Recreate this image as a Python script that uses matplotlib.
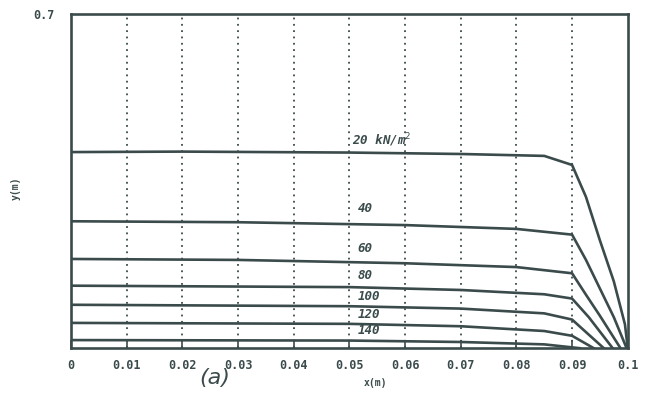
import matplotlib
matplotlib.use("Agg")
import matplotlib.pyplot as plt

# ---- data ----
loads = ["20 kN/m$^2$", "40", "60", "80", "100", "120", "140"]
x20 = [0, 0.02, 0.05, 0.07, 0.085, 0.09, 0.0925, 0.095, 0.0975, 0.0995, 0.1]
y20 = [0.411, 0.412, 0.410, 0.407, 0.403, 0.384, 0.317, 0.226, 0.140, 0.05, 0.0]
x40 = [0, 0.03, 0.06, 0.08, 0.09, 0.0925, 0.095, 0.0975, 0.0998]
y40 = [0.266, 0.264, 0.258, 0.250, 0.238, 0.185, 0.125, 0.065, 0.0]
x60 = [0, 0.03, 0.06, 0.08, 0.09, 0.0925, 0.095, 0.0987]
y60 = [0.187, 0.185, 0.178, 0.170, 0.157, 0.112, 0.068, 0.0]
x80 = [0, 0.05, 0.07, 0.085, 0.09, 0.093, 0.0973]
y80 = [0.131, 0.128, 0.122, 0.113, 0.104, 0.065, 0.0]
x100 = [0, 0.05, 0.07, 0.085, 0.09, 0.0957]
y100 = [0.091, 0.088, 0.083, 0.073, 0.060, 0.0]
x120 = [0, 0.05, 0.07, 0.085, 0.09, 0.0939]
y120 = [0.053, 0.051, 0.046, 0.036, 0.026, 0.0]
x140 = [0, 0.05, 0.07, 0.085, 0.0914]
y140 = [0.017, 0.016, 0.013, 0.008, 0.0]
label_x = [0.0505, 0.0515, 0.0515, 0.0515, 0.0515, 0.0515, 0.0515]
label_y = [0.436, 0.293, 0.208, 0.153, 0.109, 0.071, 0.038]
xticks = [0, 0.01, 0.02, 0.03, 0.04, 0.05, 0.06, 0.07, 0.08, 0.09, 0.1]
xtick_labels = ["0", "0.01", "0.02", "0.03", "0.04", "0.05", "0.06", "0.07", "0.08", "0.09", "0.1"]

xs = [x20, x40, x60, x80, x100, x120, x140]
ys = [y20, y40, y60, y80, y100, y120, y140]

col = "#3b4b4b"
fig = plt.figure(figsize=(6.58, 4.17), dpi=100)
ax = fig.add_axes([0.108, 0.165, 0.846, 0.801])
for x, y in zip(xs, ys):
    ax.plot(x, y, color=col, lw=1.9, solid_joinstyle="round")
for lab, lx, ly in zip(loads, label_x, label_y):
    ax.text(lx, ly, lab, color=col, fontsize=9, fontweight="bold", fontstyle="italic",
            family="DejaVu Sans Mono", va="center", ha="left")

ax.set_xlim(0, 0.1)
ax.set_ylim(0, 0.7)
for gx in xticks[1:-1]:
    ax.axvline(gx, color=col, lw=1.3, ls=(0, (1, 2.5)))
ax.set_xticks(xticks)
ax.set_xticklabels(xtick_labels, fontsize=8.5, fontweight="bold", family="DejaVu Sans Mono", color=col)
ax.set_yticks([0.7])
ax.set_yticklabels(["0.7"], fontsize=8.5, fontweight="bold", family="DejaVu Sans Mono", color=col)
ax.tick_params(axis="x", direction="in", length=6, width=1.2, color=col, pad=8)
ax.tick_params(axis="y", length=0, pad=12)
for s in ax.spines.values():
    s.set_color(col)
    s.set_linewidth(1.9)
ax.set_xlabel("x(m)", fontsize=7, fontweight="bold", family="DejaVu Sans Mono", color=col)
ax.xaxis.set_label_coords(0.546, -0.09)
ax.set_ylabel("y(m)", fontsize=7, fontweight="bold", family="DejaVu Sans Mono", color=col)
ax.yaxis.set_label_coords(-0.09, 0.48)
fig.text(0.327, 0.093, "(a)", fontsize=16, fontstyle="italic", color=col, ha="center", va="center")
fig.savefig("out.png", dpi=100)
